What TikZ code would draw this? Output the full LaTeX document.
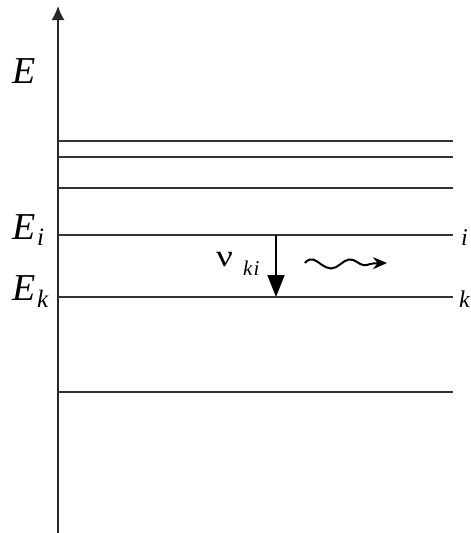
\documentclass[tikz,border=0pt]{standalone}
\usepackage{fontspec}
\setmainfont{Liberation Serif}
\usetikzlibrary{arrows.meta}
\begin{document}
\begin{tikzpicture}[x=1pt,y=-1pt,
  level/.style={draw=black!80,line width=1.3pt},
  big/.style={font=\fontsize{38}{38}\selectfont\itshape,inner sep=0pt,anchor=base west},
  sub/.style={font=\fontsize{25}{25}\selectfont\itshape,inner sep=0pt,anchor=base west},
  side/.style={font=\fontsize{24}{24}\selectfont\itshape,inner sep=0pt,anchor=base west}]
\useasboundingbox (0,0) rectangle (471,533);
% axis
\coordinate (ax0) at (58,533);
\coordinate (ax1) at (58,6);
\draw[line width=1.6pt,black!85,-{Latex[length=14pt,width=13pt]}] (ax0) -- (ax1);
% levels
\foreach \n/\y in {a/141,b/157,c/188,i/235,k/297,f/392}{
  \coordinate (L\n) at (58,\y);
  \coordinate (R\n) at (453,\y);
  \draw[level] (L\n) -- (R\n);
}
% left labels
\node[big] (E) at (12,83) {E};
\node[big] (Ei) at (12,239) {E};
\node[sub] (Eisub) at (37,245) {i};
\node[big] (Ek) at (12,300) {E};
\node[sub] (Eksub) at (37,307) {k};
% right labels
\node[side] (ri) at (461,245) {i};
\node[side] (rk) at (459,307) {k};
% transition
\coordinate (T0) at (276,235);
\coordinate (T1) at (276,297);
\draw[line width=2pt,-{Triangle[length=22pt,width=17pt]}] (T0) -- (T1);
\node[font=\fontsize{31}{31}\selectfont,inner sep=0pt,anchor=base west,xscale=1.2] (nu) at (216,266) {ν};
\node[font=\fontsize{21}{21}\selectfont\itshape,inner sep=0pt,anchor=base west] (nusub) at (243,275) {k\kern1pt i};
% photon
\coordinate (P0) at (305,263);
\coordinate (P1) at (387,263);
\draw[line width=2pt,-{Stealth[length=14pt,width=12pt]}]
  plot[smooth,tension=0.7] coordinates {(P0) (313,259.5) (331,268.5) (349,259.5) (363,265) (373,263.5) (P1)};
\end{tikzpicture}
\end{document}
